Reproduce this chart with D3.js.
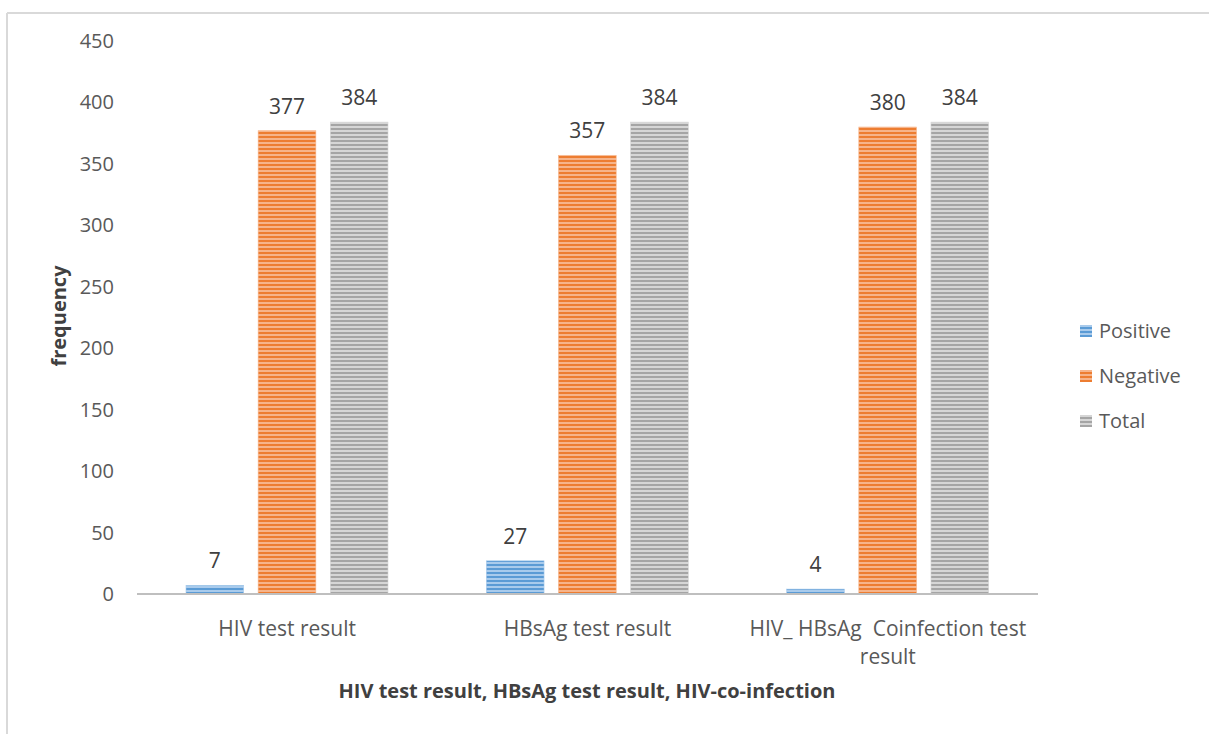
<!DOCTYPE html>
<html>
<head>
<meta charset="utf-8">
<script src="https://cdn.jsdelivr.net/npm/d3@7"></script>
<style>
    body { margin: 0; background: #fff; }
    svg text { font-family: "Open Sans", Lato, sans-serif; white-space: pre; }
</style>
</head>
<body>
<svg width="1209" height="734"></svg>
<script>
// Chart data
var categories = ['HIV test result', 'HBsAg test result', 'HIV_ HBsAg  Coinfection test result'];
var categoryLines = [['HIV test result'], ['HBsAg test result'], ['HIV_ HBsAg  Coinfection test', 'result']];
var seriesNames = ['Positive', 'Negative', 'Total'];
var positive = [7, 27, 4];
var negative = [377, 357, 380];
var total = [384, 384, 384];
var yTicks = [0, 50, 100, 150, 200, 250, 300, 350, 400, 450];

var seriesValues = [positive, negative, total];
var colors = {Positive: '#5b9bd5', Negative: '#ed7d31', Total: '#a5a5a5'};
var lightColors = {Positive: '#a9cbec', Negative: '#f6b48a', Total: '#d6d6d6'};

var svg = d3.select('svg');

// Outer frame (only top and left edges visible in the reference)
svg.append('line').attr('x1', 7).attr('x2', 1209).attr('y1', 13).attr('y2', 13)
    .attr('stroke', '#d9d9d9').attr('stroke-width', 2);
svg.append('line').attr('x1', 7).attr('x2', 7).attr('y1', 13).attr('y2', 734)
    .attr('stroke', '#d9d9d9').attr('stroke-width', 2);

// Striped fills
var defs = svg.append('defs');
seriesNames.forEach(function(s) {
    var p = defs.append('pattern')
        .attr('id', 'stripe-' + s)
        .attr('patternUnits', 'userSpaceOnUse')
        .attr('width', 8).attr('height', 4);
    p.append('rect').attr('width', 8).attr('height', 4).attr('fill', lightColors[s]);
    p.append('rect').attr('y', 0).attr('width', 8).attr('height', 2).attr('fill', colors[s]);
});

var plot = {l: 137, r: 1038, t: 41, b: 594};

var x0 = d3.scaleBand()
    .domain(categories)
    .range([plot.l, plot.r]);

var x1 = d3.scaleBand()
    .domain(seriesNames)
    .range([49, 251])
    .paddingInner(0.2);

var y = d3.scaleLinear()
    .domain([0, 450])
    .range([plot.b, plot.t]);

// Y tick labels (no axis line, no gridlines)
svg.selectAll('.ytick')
    .data(yTicks)
    .enter().append('text')
    .attr('class', 'ytick')
    .attr('x', 114)
    .attr('y', function(d){ return y(d); })
    .attr('dy', '0.35em')
    .attr('text-anchor', 'end')
    .attr('font-size', 20)
    .attr('fill', '#595959')
    .text(function(d){ return d; });

// Bars
var groups = svg.selectAll('.group')
    .data(categories)
    .enter().append('g')
    .attr('class', 'group')
    .attr('transform', function(d){ return 'translate(' + [x0(d), 0] + ')'; });

groups.each(function(cat, ci) {
    var g = d3.select(this);
    var rows = seriesNames.map(function(s, si){ return {series: s, value: seriesValues[si][ci]}; });

    g.selectAll('rect')
        .data(rows)
        .enter().append('rect')
        .attr('x', function(d){ return x1(d.series); })
        .attr('width', x1.bandwidth())
        .attr('y', function(d){ return y(d.value); })
        .attr('height', function(d){ return y(0) - y(d.value); })
        .attr('fill', function(d){ return 'url(#stripe-' + d.series + ')'; })
        .attr('stroke', function(d){ return lightColors[d.series]; })
        .attr('stroke-width', 0.6);

    // Value labels above each bar
    g.selectAll('text.value')
        .data(rows)
        .enter().append('text')
        .attr('class', 'value')
        .attr('x', function(d){ return x1(d.series) + x1.bandwidth() / 2; })
        .attr('y', function(d){ return y(d.value) - 17; })
        .attr('text-anchor', 'middle')
        .attr('font-size', 21)
        .attr('fill', '#404040')
        .text(function(d){ return d.value; });
});

// X axis baseline
svg.append('line')
    .attr('x1', plot.l).attr('x2', plot.r)
    .attr('y1', y(0)).attr('y2', y(0))
    .attr('stroke', '#bfbfbf').attr('stroke-width', 2);

// Category labels
categories.forEach(function(cat, i) {
    var t = svg.append('text')
        .attr('x', x0(cat) + x0.bandwidth() / 2)
        .attr('y', 636)
        .attr('text-anchor', 'middle')
        .attr('font-size', 21)
        .attr('fill', '#595959');
    categoryLines[i].forEach(function(line, li) {
        t.append('tspan')
            .attr('x', x0(cat) + x0.bandwidth() / 2)
            .attr('dy', li === 0 ? 0 : 28)
            .text(line);
    });
});

// Axis titles
svg.append('text')
    .attr('transform', 'translate(' + [66, 316] + ') rotate(-90)')
    .attr('text-anchor', 'middle')
    .attr('font-size', 20)
    .attr('font-weight', 'bold')
    .attr('fill', '#404040')
    .text('frequency');

svg.append('text')
    .attr('x', 587)
    .attr('y', 698)
    .attr('text-anchor', 'middle')
    .attr('font-size', 20)
    .attr('font-weight', 'bold')
    .attr('fill', '#404040')
    .text('HIV test result, HBsAg test result, HIV-co-infection');

// Legend
var legend = svg.selectAll('.legend')
    .data(seriesNames)
    .enter().append('g')
    .attr('class', 'legend')
    .attr('transform', function(d, i){ return 'translate(' + [1080, 331 + i * 45] + ')'; });

legend.append('rect')
    .attr('x', 0).attr('y', -6)
    .attr('width', 12).attr('height', 12)
    .attr('fill', function(d){ return 'url(#stripe-' + d + ')'; });

legend.append('text')
    .attr('x', 19)
    .attr('dy', '0.35em')
    .attr('font-size', 20)
    .attr('fill', '#595959')
    .text(function(d){ return d; });
</script>
</body>
</html>
